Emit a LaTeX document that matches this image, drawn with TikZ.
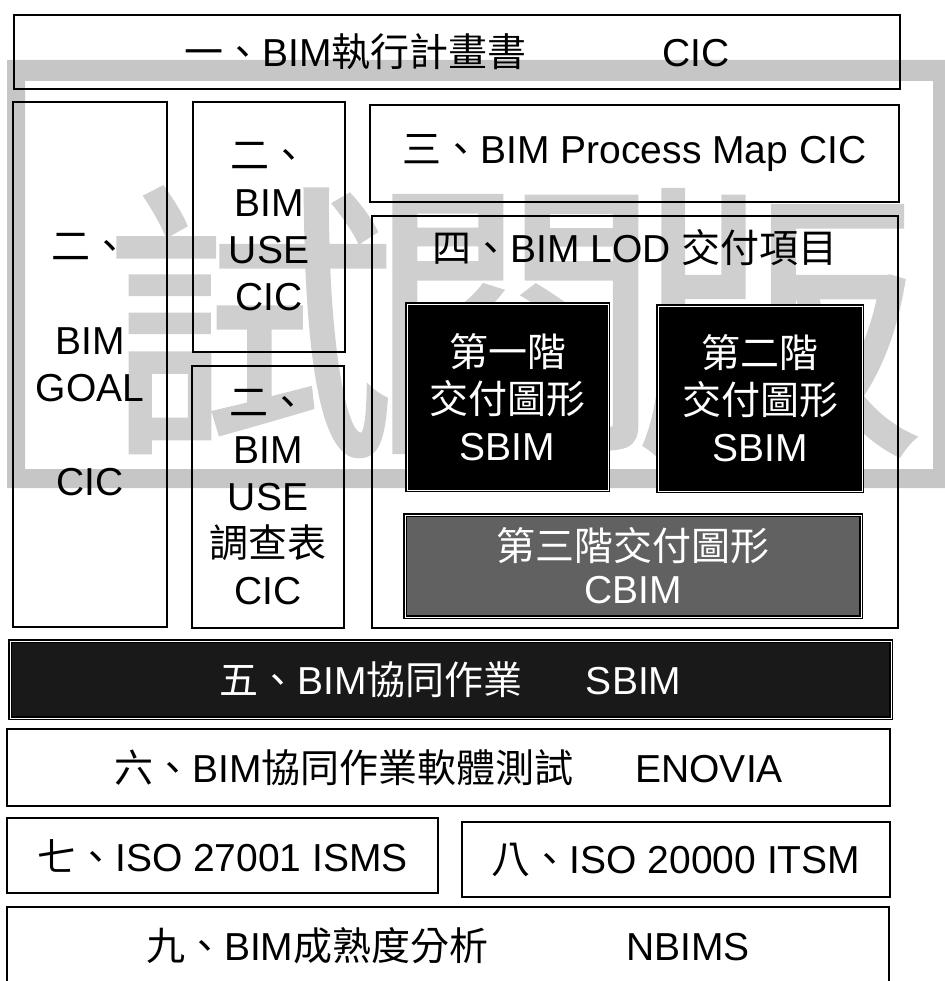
\documentclass[tikz,border=0pt]{standalone}
\usepackage{fontspec}
\setmainfont{Liberation Sans}
\newfontfamily\tc{Noto Sans CJK TC}
\newfontfamily\wm{Noto Sans CJK TC}[FakeBold=1.5]
\usetikzlibrary{patterns}

\begin{document}
\begin{tikzpicture}[x=1pt,y=-1pt,
		box/.style={draw,line width=2pt,align=center,inner sep=0pt,font=\fontsize{39}{47}\selectfont},
		darkbox/.style={box,line width=1.2pt,double=white,double distance=0.8pt,fill=black,text=white},
		wmark/.style={text=gray!38,inner sep=0pt,font=\wm\fontsize{290}{290}\selectfont}]
		\useasboundingbox (0,0) rectangle (944,981);
		\fill[gray!45,even odd rule] (7,60) rectangle (952,488) (25,81) rectangle (933,469);
		\node[wmark] (shi) at (250,322) {試};
		\node[wmark] (yue) at (515,324) {閱};
		\node[wmark] (ban) at (778,324) {版};
		\node[box,minimum width=886pt,minimum height=74pt] (plan) at (457,52) {{\tc 一、}BIM{\tc 執行計畫書}\hspace{136pt}CIC};
		\node[box,minimum width=154pt,minimum height=525pt] (goal) at (90,364.5) {{\tc 二、}\\~\\BIM\\GOAL\\~\\CIC};
		\node[box,minimum width=152pt,minimum height=250pt] (usecic) at (269,227) {{\tc 二、}\\BIM\\USE\\CIC};
		\node[box,minimum width=152pt,minimum height=262pt] (survey) at (268,497) {{\tc 二、}\\BIM\\USE\\{\tc 調查表}\\CIC};
		\node[box,minimum width=529pt,minimum height=97pt] (procmap) at (634.5,153.5) {{\tc 三、}BIM Process Map CIC};
		\node[box,minimum width=526pt,minimum height=412pt] (lod) at (635,422) {};
		\node[box,draw=none] (lodtitle) at (635,248) {{\tc 四、}BIM LOD {\tc 交付項目}};
		\node[darkbox,minimum width=201pt,minimum height=186pt] (stageone) at (507.5,397) {{\tc 第一階}\\{\tc 交付圖形}\\SBIM};
		\node[darkbox,minimum width=204pt,minimum height=185pt] (stagetwo) at (760,398.5) {{\tc 第二階}\\{\tc 交付圖形}\\SBIM};
		\node[darkbox,fill=black!62,minimum width=456pt,minimum height=102pt,font=\fontsize{39}{43}\selectfont] (stagethree) at (633,566) {{\tc 第三階交付圖形}\\CBIM};
		\node[darkbox,fill=black!90,minimum width=881pt,minimum height=77pt] (collab) at (450.5,679.5) {{\tc 五、}BIM{\tc 協同作業}\hspace{63pt}SBIM};
		\node[box,minimum width=883pt,minimum height=77pt] (software) at (448.5,767.5) {{\tc 六、}BIM{\tc 協同作業軟體測試}\hspace{62pt}ENOVIA};
		\node[box,minimum width=431pt,minimum height=75pt] (isms) at (222.5,855.5) {{\tc 七、}ISO 27001 ISMS};
		\node[box,minimum width=428pt,minimum height=75pt] (itsm) at (676,859.5) {{\tc 八、}ISO 20000 ITSM};
		\node[box,minimum width=882pt,minimum height=77pt] (maturity) at (448,945.5) {{\tc 九、}BIM{\tc 成熟度分析}\hspace{138pt}NBIMS};
		\end{tikzpicture}
\end{document}
